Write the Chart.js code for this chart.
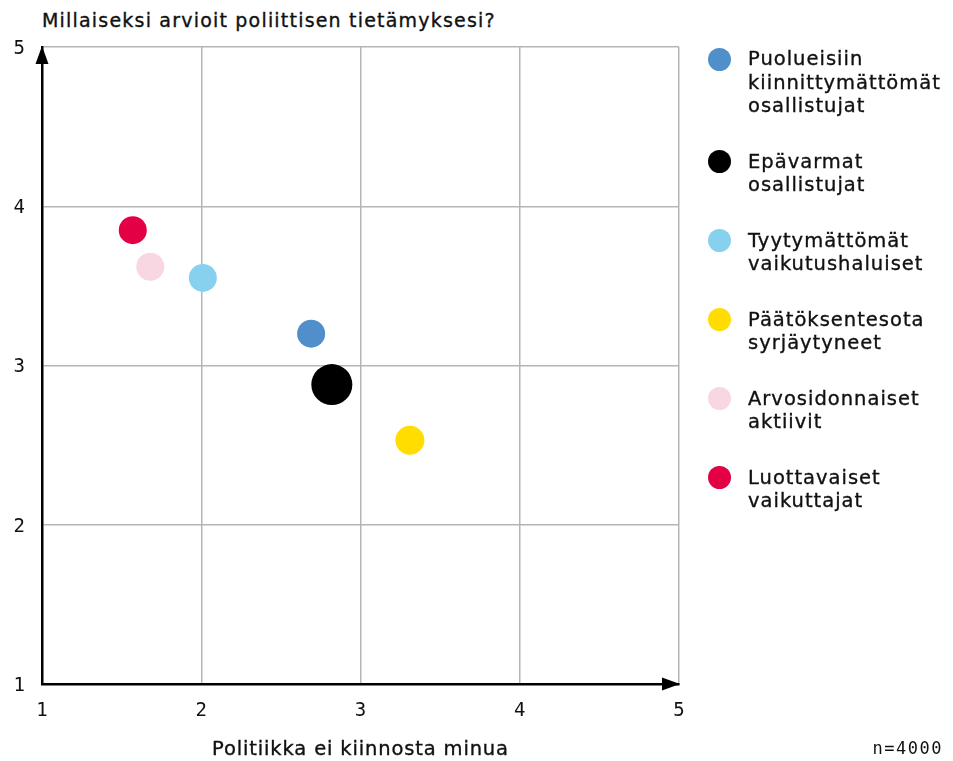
<!DOCTYPE html>
<html lang="fi">
<head>
<meta charset="utf-8">
<title>Millaiseksi arvioit poliittisen tietämyksesi?</title>
<script src="https://cdn.jsdelivr.net/npm/chart.js@4.4.1/dist/chart.umd.min.js"></script>
<style>
  html, body { margin: 0; padding: 0; background: #fff; }
  body {
    width: 953px; height: 761px; position: relative; overflow: hidden;
    font-family: 'DejaVu Sans', Inter, sans-serif; color: #111;
  }
  .chart-wrap { position: absolute; left: 0; top: 0; width: 953px; height: 761px; }
  .chart-title {
    position: absolute; left: 42px; top: 10px; margin: 0;
    font-size: 19px; line-height: 20px; font-weight: normal; letter-spacing: 1.2px;
    -webkit-text-stroke: 0.35px #111;
  }
  .x-title {
    position: absolute; left: 42px; width: 637px; top: 738px; text-align: center;
    font-size: 19.5px; line-height: 22px; letter-spacing: 0.85px;
    -webkit-text-stroke: 0.35px #111;
  }
  .legend { position: absolute; left: 708px; top: 47px; list-style: none; margin: 0; padding: 0; }
  .legend li { display: flex; align-items: flex-start; margin-bottom: 32px; }
  .legend .dot { width: 23px; height: 23px; border-radius: 50%; margin-top: 0.5px; flex: none; }
  .legend .txt {
    margin-left: 17px; font-size: 19.5px; line-height: 23.5px; letter-spacing: 1px;
    -webkit-text-stroke: 0.35px #111;
  }
  .n-note {
    position: absolute; right: 10px; top: 737px;
    font-family: 'DejaVu Sans Mono', monospace; font-size: 17px; line-height: 22px; letter-spacing: 1.5px;
  }
</style>
</head>
<body>
  <h1 class="chart-title">Millaiseksi arvioit poliittisen tietämyksesi?</h1>
  <div class="chart-wrap"><canvas id="chart-tietamys"></canvas></div>
  <div class="x-title">Politiikka ei kiinnosta minua</div>
  <ul class="legend" id="legend"></ul>
  <div class="n-note">n=4000</div>

<script>
/* ===== Data ===== */
const groups = [
  ['Puolueisiin', 'kiinnittymättömät', 'osallistujat'],
  ['Epävarmat', 'osallistujat'],
  ['Tyytymättömät', 'vaikutushaluiset'],
  ['Päätöksentesota', 'syrjäytyneet'],
  ['Arvosidonnaiset', 'aktiivit'],
  ['Luottavaiset', 'vaikuttajat']
];
// x: "Politiikka ei kiinnosta minua", y: poliittinen tietämys (1–5)
const interestValues  = [2.69, 2.82, 2.01, 3.31, 1.68, 1.57];
const knowledgeValues = [3.20, 2.88, 3.55, 2.53, 3.62, 3.85];
const axisTicks = [1, 2, 3, 4, 5];

/* ===== Styles ===== */
const groupColors = ['#518fcb', '#000000', '#88d1ee', '#ffdd00', '#f9d7e2', '#e30045'];
const markerRadius = [14, 20.5, 14, 14.5, 14, 14];
const tickFont = { family: "'DejaVu Sans Mono', monospace", size: 19, weight: 'normal' };
const gridColor = '#b5b5b5';

/* ===== HTML legend ===== */
const legendEl = document.getElementById('legend');
groups.forEach((lines, i) => {
  const li = document.createElement('li');
  const dot = document.createElement('span');
  dot.className = 'dot';
  dot.style.background = groupColors[i];
  const txt = document.createElement('span');
  txt.className = 'txt';
  txt.innerHTML = lines.join('<br>');
  li.appendChild(dot);
  li.appendChild(txt);
  legendEl.appendChild(li);
});

/* ===== Arrow heads on axes ===== */
const axisArrows = {
  id: 'axisArrows',
  afterDraw(chart) {
    const { ctx, chartArea: { left, right, top, bottom } } = chart;
    ctx.save();
    ctx.fillStyle = '#000';
    // x-akseli
    ctx.beginPath();
    ctx.moveTo(right + 1, bottom);
    ctx.lineTo(right - 17, bottom - 6.5);
    ctx.lineTo(right - 17, bottom + 6.5);
    ctx.closePath();
    ctx.fill();
    // y-akseli
    ctx.beginPath();
    ctx.moveTo(left, top - 1);
    ctx.lineTo(left - 6.5, top + 17);
    ctx.lineTo(left + 6.5, top + 17);
    ctx.closePath();
    ctx.fill();
    ctx.restore();
  }
};

const ctx = document.getElementById('chart-tietamys');
new Chart(ctx, {
  type: 'scatter',
  data: {
    datasets: groups.map((lines, i) => ({
      label: lines.join(' '),
      data: [{ x: interestValues[i], y: knowledgeValues[i] }],
      backgroundColor: groupColors[i],
      borderWidth: 0,
      pointRadius: markerRadius[i],
      pointHoverRadius: markerRadius[i] + 1
    }))
  },
  options: {
    responsive: true,
    maintainAspectRatio: false,
    animation: false,
    layout: { padding: { top: 47, right: 274, left: 0, bottom: 0 } },
    plugins: {
      legend: { display: false },
      tooltip: {
        callbacks: {
          label: (c) => ` ${c.dataset.label}: ${c.parsed.x.toFixed(2)} / ${c.parsed.y.toFixed(2)}`
        }
      }
    },
    scales: {
      x: {
        type: 'linear',
        min: axisTicks[0],
        max: axisTicks[axisTicks.length - 1],
        afterBuildTicks: (s) => { s.ticks = axisTicks.map(v => ({ value: v })); },
        afterFit: (s) => { s.height = 77; },
        ticks: { padding: 16, color: '#111', font: tickFont },
        grid: { color: gridColor, lineWidth: 1.5, drawTicks: false },
        border: { color: '#000', width: 2.5 }
      },
      y: {
        type: 'linear',
        min: axisTicks[0],
        max: axisTicks[axisTicks.length - 1],
        afterBuildTicks: (s) => { s.ticks = axisTicks.map(v => ({ value: v })); },
        afterFit: (s) => { s.width = 42; },
        ticks: { padding: 17, labelOffset: 2, color: '#111', font: tickFont },
        grid: { color: gridColor, lineWidth: 1.5, drawTicks: false },
        border: { color: '#000', width: 2.5 }
      }
    }
  },
  plugins: [axisArrows]
});
</script>
</body>
</html>
